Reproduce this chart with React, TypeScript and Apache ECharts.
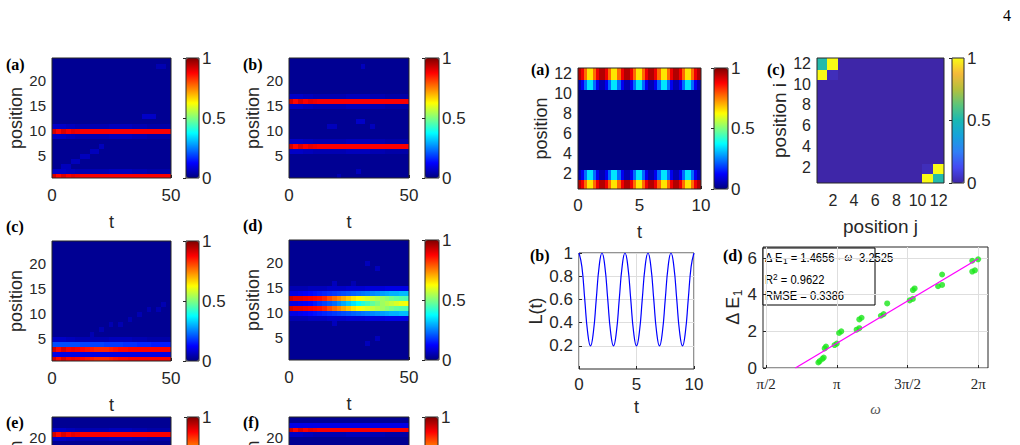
import React, { useEffect, useRef } from 'react';
import * as echarts from 'echarts';

const SANS = '"Liberation Sans", Arial, Helvetica, sans-serif';
const SERIF = '"Liberation Serif", "Times New Roman", serif';
const INK = '#262626';

const JET = ['#00007f', '#0000ff', '#007fff', '#00ffff', '#7fff7f', '#ffff00', '#ff7f00', '#ff0000', '#7f0000'];
const PARULA = ['#3e26a8', '#4549f2', '#2f7ff6', '#16a2dc', '#1ab8b4', '#5cc47a', '#b4c03c', '#f5b93a', '#f9fb15'];

// ---------- propagation maps, t = 0..50 (bin centres), sites 1..24 ----------
const tLong = [1, 3, 5, 7, 9, 11, 13, 15, 17, 19, 21, 23, 25, 27, 29, 31, 33, 35, 37, 39, 41, 43, 45, 47, 49];

const redBand = [0.92, 0.87, 0.91, 0.88, 0.9, 0.89, 0.88, 0.88, 0.88, 0.88, 0.88, 0.88, 0.88, 0.88, 0.88, 0.88, 0.88, 0.88, 0.88, 0.88, 0.88, 0.88, 0.88, 0.88, 0.88];
const faintBand = [0.07, 0.07, 0.07, 0.06, 0.06, 0.05, 0.05, 0.05, 0.05, 0.05, 0.05, 0.05, 0.06, 0.06, 0.06, 0.06, 0.06, 0.05, 0.05, 0.05, 0.04, 0.04, 0.04, 0.04, 0.04];

const mapABg = 0.02;
const mapABands: Record<number, number[]> = { 10: redBand, 1: redBand, 11: faintBand, 9: faintBand, 2: faintBand };
const mapASpots = [[5, 3, 0.06], [7, 3, 0.06], [9, 4, 0.06], [11, 4, 0.06], [13, 5, 0.06], [15, 5, 0.06], [17, 6, 0.06], [19, 6, 0.06], [21, 7, 0.06], [39, 13, 0.07], [41, 13, 0.07], [43, 13, 0.07], [45, 23, 0.05], [47, 23, 0.05]];

const mapBBg = 0.02;
const mapBBands: Record<number, number[]> = { 16: redBand, 7: redBand, 15: faintBand, 17: faintBand, 6: faintBand, 8: faintBand };
const mapBSpots = [[17, 11, 0.06], [19, 11, 0.06], [29, 12, 0.07], [31, 12, 0.07], [35, 11, 0.06], [29, 2, 0.06], [21, 1, 0.05], [31, 23, 0.06]];

const mapCRed = [0.92, 0.87, 0.91, 0.88, 0.89, 0.88, 0.87, 0.86, 0.85, 0.84, 0.84, 0.84, 0.85, 0.86, 0.87, 0.87, 0.88, 0.88, 0.88, 0.88, 0.88, 0.88, 0.88, 0.88, 0.88];
const mapCRow4 = [0.2, 0.2, 0.2, 0.2, 0.2, 0.2, 0.19, 0.19, 0.19, 0.19, 0.19, 0.18, 0.18, 0.18, 0.18, 0.17, 0.17, 0.17, 0.16, 0.16, 0.16, 0.15, 0.15, 0.15, 0.15];
const mapCRow2 = [0.1, 0.1, 0.1, 0.1, 0.1, 0.1, 0.1, 0.1, 0.1, 0.1, 0.1, 0.1, 0.1, 0.1, 0.1, 0.1, 0.1, 0.1, 0.1, 0.1, 0.1, 0.1, 0.1, 0.1, 0.1];
const mapCBg = 0.02;
const mapCBands: Record<number, number[]> = { 1: mapCRed, 3: mapCRed, 2: mapCRow2, 4: mapCRow4, 5: faintBand };
const mapCSpots = [[17, 6, 0.05], [21, 7, 0.05], [25, 8, 0.05], [29, 8, 0.05], [33, 9, 0.05], [37, 10, 0.05], [41, 11, 0.05], [45, 11, 0.05], [47, 12, 0.05]];

const mapDOuter = [0.92, 0.9, 0.9, 0.89, 0.88, 0.87, 0.86, 0.84, 0.8, 0.77, 0.74, 0.71, 0.68, 0.65, 0.63, 0.61, 0.59, 0.57, 0.55, 0.53, 0.51, 0.49, 0.47, 0.46, 0.45];
const mapDCentre = [0.1, 0.1, 0.11, 0.12, 0.13, 0.15, 0.17, 0.19, 0.21, 0.23, 0.26, 0.29, 0.32, 0.35, 0.38, 0.41, 0.44, 0.47, 0.5, 0.53, 0.55, 0.57, 0.59, 0.61, 0.62];
const mapDFlank = [0.1, 0.1, 0.11, 0.12, 0.13, 0.14, 0.15, 0.16, 0.17, 0.18, 0.19, 0.2, 0.21, 0.22, 0.23, 0.24, 0.25, 0.26, 0.27, 0.28, 0.29, 0.3, 0.3, 0.31, 0.31];
const mapDEdge = [0.05, 0.05, 0.05, 0.05, 0.06, 0.06, 0.06, 0.06, 0.07, 0.07, 0.07, 0.07, 0.08, 0.08, 0.08, 0.08, 0.09, 0.09, 0.09, 0.09, 0.1, 0.1, 0.1, 0.1, 0.1];
const mapDBg = 0.02;
const mapDBands: Record<number, number[]> = { 11: mapDOuter, 13: mapDOuter, 12: mapDCentre, 10: mapDFlank, 14: mapDFlank, 9: mapDEdge, 15: mapDEdge };
const mapDSpots = [[19, 16, 0.06], [27, 16, 0.05], [33, 20, 0.06], [37, 19, 0.06], [19, 8, 0.06], [33, 4, 0.06], [37, 5, 0.06]];

const mapEBg = 0.02;
const mapEBands: Record<number, number[]> = { 21: redBand, 22: faintBand, 20: faintBand };
const mapFBg = 0.02;
const mapFBands: Record<number, number[]> = { 22: redBand, 23: mapCRow2, 21: faintBand };

// ---------- two-edge map, t = 0..10 (bin centres), sites 1..12 ----------
const tShort = [0.125, 0.375, 0.625, 0.875, 1.125, 1.375, 1.625, 1.875, 2.125, 2.375, 2.625, 2.875, 3.125, 3.375, 3.625, 3.875, 4.125, 4.375, 4.625, 4.875, 5.125, 5.375, 5.625, 5.875, 6.125, 6.375, 6.625, 6.875, 7.125, 7.375, 7.625, 7.875, 8.125, 8.375, 8.625, 8.875, 9.125, 9.375, 9.625, 9.875];
const edgeSite = [0.95, 0.89, 0.77, 0.65, 0.65, 0.77, 0.89, 0.95, 0.95, 0.89, 0.77, 0.65, 0.65, 0.77, 0.89, 0.95, 0.95, 0.89, 0.77, 0.65, 0.65, 0.77, 0.89, 0.95, 0.95, 0.89, 0.77, 0.65, 0.65, 0.77, 0.89, 0.95, 0.95, 0.89, 0.77, 0.65, 0.65, 0.77, 0.89, 0.95];
const innerSite = [0.05, 0.11, 0.23, 0.35, 0.35, 0.23, 0.11, 0.05, 0.05, 0.11, 0.23, 0.35, 0.35, 0.23, 0.11, 0.05, 0.05, 0.11, 0.23, 0.35, 0.35, 0.23, 0.11, 0.05, 0.05, 0.11, 0.23, 0.35, 0.35, 0.23, 0.11, 0.05, 0.05, 0.11, 0.23, 0.35, 0.35, 0.23, 0.11, 0.05];
const twoEdgeBands: Record<number, number[]> = { 12: edgeSite, 11: innerSite, 1: edgeSite, 2: innerSite };

// ---------- correlation matrix, sites 1..12 ----------
const sites12 = [1, 2, 3, 4, 5, 6, 7, 8, 9, 10, 11, 12];
const corrCells = [[1, 12, 0.52], [2, 12, 1], [1, 11, 1], [2, 11, 0.03], [12, 1, 0.52], [11, 1, 1], [12, 2, 1], [11, 2, 0.03]];

// ---------- L(t) ----------
const lTimes = [0, 0.25, 0.5, 0.75, 1, 1.25, 1.5, 1.75, 2, 2.25, 2.5, 2.75, 3, 3.25, 3.5, 3.75, 4, 4.25, 4.5, 4.75, 5, 5.25, 5.5, 5.75, 6, 6.25, 6.5, 6.75, 7, 7.25, 7.5, 7.75, 8, 8.25, 8.5, 8.75, 9, 9.25, 9.5, 9.75, 10];
const lValues = [1, 0.883, 0.6, 0.317, 0.2, 0.317, 0.6, 0.883, 1, 0.883, 0.6, 0.317, 0.2, 0.317, 0.6, 0.883, 1, 0.883, 0.6, 0.317, 0.2, 0.317, 0.6, 0.883, 1, 0.883, 0.6, 0.317, 0.2, 0.317, 0.6, 0.883, 1, 0.883, 0.6, 0.317, 0.2, 0.317, 0.6, 0.883, 1];

// ---------- ΔE1 vs ω ----------
const omegaVals = [2.73, 2.76, 2.82, 2.85, 2.87, 2.9, 3.09, 3.14, 3.19, 3.24, 3.58, 3.64, 3.64, 3.69, 4.12, 4.18, 4.26, 4.76, 4.83, 4.83, 4.87, 5.39, 5.48, 5.48, 6.15, 6.21, 6.15, 6.28];
const deltaE = [0.3, 0.38, 0.5, 0.57, 1.07, 1.17, 1.25, 1.33, 1.91, 2.0, 2.09, 2.17, 2.65, 2.74, 2.85, 2.94, 3.52, 3.69, 3.77, 4.25, 4.34, 4.46, 4.53, 5.1, 5.26, 5.33, 5.85, 5.93];
const fitSlope = 1.4656;
const fitIntercept = -3.2525;
const fitR2 = 0.9622;
const fitRmse = 0.3386;
const piTicks = [Math.PI / 2, Math.PI, (3 * Math.PI) / 2, 2 * Math.PI];
const piLabels = ['π/2', 'π', '3π/2', '2π'];

function buildMap(times: number[], rows: number, bg: number, bands: Record<number, number[]>, spots: number[][] = []) {
  const spotVals = new Map<string, number>();
  spots.forEach(([t, r, v]) => spotVals.set(`${t}|${r}`, v));
  const out: number[][] = [];
  for (let r = 1; r <= rows; r++) {
    const band = bands[r];
    times.forEach((t, k) => {
      const s = spotVals.get(`${t}|${r}`);
      out.push([t, r, s !== undefined ? s : band ? band[k] : bg]);
    });
  }
  return out;
}

// one image cell, snapped outward to whole pixels so neighbours leave no seams
function cellRenderer(dx: number, dy: number) {
  return (_params: any, api: any) => {
    const x = api.value(0);
    const y = api.value(1);
    const p0 = api.coord([x - dx / 2, y + dy / 2]);
    const p1 = api.coord([x + dx / 2, y - dy / 2]);
    const x0 = Math.floor(p0[0]);
    const y0 = Math.floor(p0[1]);
    return {
      type: 'rect',
      shape: { x: x0, y: y0, width: Math.ceil(p1[0]) - x0 + 1, height: Math.ceil(p1[1]) - y0 + 1 },
      style: { fill: api.visual('color'), stroke: null },
    };
  };
}

type Box = { left: number; top: number; width: number; height: number };

function buildOption() {
  const grid: any[] = [];
  const xAxis: any[] = [];
  const yAxis: any[] = [];
  const series: any[] = [];
  const visualMap: any[] = [];
  const graphic: any[] = [];

  const tick = (vals?: number[], len = 3) => ({
    show: true, inside: true, length: len, lineStyle: { color: INK, width: 1 }, ...(vals ? { customValues: vals } : {}),
  });

  function addHeat(p: {
    box: Box; bar: Box; data: number[][]; dx: number; dy: number; colors: string[];
    xMin: number; xMax: number; xInterval?: number; xTicks?: number[]; yMin: number; yMax: number; yTicks: number[];
    xName: string; yName: string; xNameGap: number; yNameGap: number; xMargin: number;
    xFont: number; yFont: number; nameFont: number; barFont: number;
  }) {
    const gi = grid.push({ ...p.box, show: true, borderColor: INK, borderWidth: 1, backgroundColor: 'transparent', z: 5 }) - 1;
    const xi = xAxis.push({
      gridIndex: gi, type: 'value', min: p.xMin, max: p.xMax, ...(p.xInterval ? { interval: p.xInterval } : {}),
      axisLine: { show: false }, splitLine: { show: false }, axisTick: tick(p.xTicks),
      axisLabel: { color: INK, fontSize: p.xFont, fontFamily: SANS, margin: p.xMargin, ...(p.xTicks ? { customValues: p.xTicks } : {}) },
      name: p.xName, nameLocation: 'middle', nameGap: p.xNameGap,
      nameTextStyle: { color: INK, fontSize: p.nameFont, fontFamily: SANS },
    }) - 1;
    const yi = yAxis.push({
      gridIndex: gi, type: 'value', min: p.yMin, max: p.yMax,
      axisLine: { show: false }, splitLine: { show: false }, axisTick: tick(p.yTicks),
      axisLabel: { color: INK, fontSize: p.yFont, fontFamily: SANS, margin: 6, customValues: p.yTicks },
      name: p.yName, nameLocation: 'middle', nameGap: p.yNameGap, nameRotate: 90,
      nameTextStyle: { color: INK, fontSize: p.nameFont, fontFamily: SANS },
    }) - 1;
    const si = series.push({
      type: 'custom', xAxisIndex: xi, yAxisIndex: yi, data: p.data, encode: { x: 0, y: 1 },
      renderItem: cellRenderer(p.dx, p.dy), silent: true, clip: true,
    }) - 1;
    visualMap.push({
      type: 'continuous', seriesIndex: si, dimension: 2, min: 0, max: 1, inRange: { color: p.colors },
      left: p.bar.left, top: p.bar.top, itemWidth: p.bar.width, itemHeight: p.bar.height,
      calculable: false, padding: 0, hoverLink: false, z: 1, textStyle: { fontSize: 1 },
    });
    const ci = grid.push({ ...p.bar, show: true, borderColor: INK, borderWidth: 1, backgroundColor: 'transparent', z: 5 }) - 1;
    xAxis.push({ gridIndex: ci, type: 'value', min: 0, max: 1, show: false });
    yAxis.push({
      gridIndex: ci, type: 'value', position: 'right', min: 0, max: 1, interval: 0.5, z: 5,
      axisLine: { show: false }, splitLine: { show: false }, axisTick: tick(undefined, 3),
      axisLabel: { color: INK, fontSize: p.barFont, fontFamily: SANS, margin: 3 },
    });
  }

  const leftCommon = {
    dx: 2, dy: 1, colors: JET, xMin: 0, xMax: 50, xInterval: 50, yMin: 0.5, yMax: 24.5, yTicks: [5, 10, 15, 20],
    xName: 't', yName: 'position', xNameGap: 35, yNameGap: 24, xMargin: 9, xFont: 17, yFont: 15, nameFont: 18, barFont: 17,
  };
  addHeat({ ...leftCommon, box: { left: 52, top: 58, width: 119, height: 120 }, bar: { left: 186, top: 58, width: 13, height: 120 }, data: buildMap(tLong, 24, mapABg, mapABands, mapASpots) });
  addHeat({ ...leftCommon, box: { left: 289, top: 58, width: 120, height: 120 }, bar: { left: 425, top: 58, width: 14, height: 120 }, data: buildMap(tLong, 24, mapBBg, mapBBands, mapBSpots) });
  addHeat({ ...leftCommon, box: { left: 52, top: 241, width: 119, height: 120 }, bar: { left: 186, top: 241, width: 13, height: 120 }, data: buildMap(tLong, 24, mapCBg, mapCBands, mapCSpots) });
  addHeat({ ...leftCommon, box: { left: 289, top: 240, width: 120, height: 120 }, bar: { left: 425, top: 240, width: 14, height: 120 }, data: buildMap(tLong, 24, mapDBg, mapDBands, mapDSpots) });
  addHeat({ ...leftCommon, box: { left: 52, top: 417, width: 119, height: 120 }, bar: { left: 187, top: 417, width: 12, height: 120 }, data: buildMap(tLong, 24, mapEBg, mapEBands) });
  addHeat({ ...leftCommon, box: { left: 289, top: 417, width: 120, height: 120 }, bar: { left: 425, top: 417, width: 13, height: 120 }, data: buildMap(tLong, 24, mapFBg, mapFBands) });

  // two-edge time map
  addHeat({
    box: { left: 578, top: 68, width: 123, height: 121 }, bar: { left: 714, top: 68, width: 14, height: 121 },
    data: buildMap(tShort, 12, 0, twoEdgeBands), dx: 0.25, dy: 1, colors: JET,
    xMin: 0, xMax: 10, xInterval: 5, yMin: 0.5, yMax: 12.5, yTicks: [2, 4, 6, 8, 10, 12],
    xName: 't', yName: 'position', xNameGap: 34, yNameGap: 26, xMargin: 8, xFont: 17, yFont: 16, nameFont: 18, barFont: 17,
  });
  // correlation matrix
  addHeat({
    box: { left: 817, top: 58, width: 127, height: 125 }, bar: { left: 952, top: 58, width: 12, height: 125 },
    data: buildMap(sites12, 12, 0, {}, corrCells), dx: 1, dy: 1, colors: PARULA,
    xMin: 0.5, xMax: 12.5, xTicks: [2, 4, 6, 8, 10, 12], yMin: 0.5, yMax: 12.5, yTicks: [2, 4, 6, 8, 10, 12],
    xName: 'position j', yName: 'position i', xNameGap: 34, yNameGap: 26, xMargin: 9, xFont: 16, yFont: 16, nameFont: 19, barFont: 17,
  });

  // L(t)
  {
    const gi = grid.push({ left: 579, top: 253, width: 115, height: 116, show: true, borderColor: INK, borderWidth: 1, backgroundColor: 'transparent' }) - 1;
    const xi = xAxis.push({
      gridIndex: gi, type: 'value', min: 0, max: 10, interval: 5,
      axisLine: { show: false }, axisTick: tick(undefined, 3),
      splitLine: { show: true, lineStyle: { color: '#dedede', width: 1 } },
      axisLabel: { color: INK, fontSize: 17, fontFamily: SANS, margin: 7 },
      name: 't', nameLocation: 'middle', nameGap: 29, nameTextStyle: { color: INK, fontSize: 18, fontFamily: SANS },
    }) - 1;
    const yi = yAxis.push({
      gridIndex: gi, type: 'value', min: 0, max: 1, interval: 0.2,
      axisLine: { show: false }, axisTick: tick([0.2, 0.4, 0.6, 0.8, 1], 3),
      splitLine: { show: true, lineStyle: { color: '#dedede', width: 1 } },
      axisLabel: { color: INK, fontSize: 17, fontFamily: SANS, margin: 6, customValues: [0.2, 0.4, 0.6, 0.8, 1] },
      name: 'L(t)', nameLocation: 'middle', nameGap: 32, nameRotate: 90, nameTextStyle: { color: INK, fontSize: 18, fontFamily: SANS },
    }) - 1;
    series.push({
      type: 'line', xAxisIndex: xi, yAxisIndex: yi, data: lTimes.map((t, i) => [t, lValues[i]]),
      smooth: 0.5, showSymbol: false, lineStyle: { color: '#0000ff', width: 1.2 }, silent: true,
    });
  }

  // ΔE1 vs ω with linear fit
  {
    const gi = grid.push({ left: 763, top: 247, width: 225, height: 121, show: true, borderColor: INK, borderWidth: 1, backgroundColor: 'transparent' }) - 1;
    const xi = xAxis.push({
      gridIndex: gi, type: 'value', min: 1.5, max: 6.5,
      axisLine: { show: false }, axisTick: tick(piTicks, 3),
      splitLine: { show: true, lineStyle: { color: '#dedede', width: 1 } },
      axisLabel: {
        color: INK, fontSize: 15, fontFamily: SERIF, margin: 8, customValues: piTicks,
        formatter: (v: number) => { const k = piTicks.findIndex((p) => Math.abs(p - v) < 1e-6); return k >= 0 ? piLabels[k] : ''; },
      },
      name: 'ω', nameLocation: 'middle', nameGap: 33,
      nameTextStyle: { color: '#555555', fontSize: 15, fontFamily: SERIF, fontStyle: 'italic' },
    }) - 1;
    const yi = yAxis.push({
      gridIndex: gi, type: 'value', min: 0, max: 6.6,
      axisLine: { show: false }, axisTick: tick([0, 2, 4, 6], 3),
      splitLine: { show: true, lineStyle: { color: '#dedede', width: 1 } },
      axisLabel: { color: INK, fontSize: 17, fontFamily: SANS, margin: 6, customValues: [0, 2, 4, 6] },
      name: '{m|Δ E}{s|1}', nameLocation: 'middle', nameGap: 19, nameRotate: 90,
      nameTextStyle: {
        color: INK, fontSize: 18, fontFamily: SANS,
        rich: { m: { fontSize: 18, fontFamily: SANS, color: INK, lineHeight: 22, verticalAlign: 'middle' }, s: { fontSize: 12, fontFamily: SANS, color: INK, lineHeight: 12, verticalAlign: 'bottom' } },
      },
    }) - 1;
    const x0 = -fitIntercept / fitSlope;
    const x1 = 2 * Math.PI;
    series.push({
      type: 'line', xAxisIndex: xi, yAxisIndex: yi, data: [[x0, fitSlope * x0 + fitIntercept], [x1, fitSlope * x1 + fitIntercept]],
      showSymbol: false, lineStyle: { color: '#ff00ff', width: 1.3 }, silent: true, z: 3,
    });
    series.push({
      type: 'scatter', xAxisIndex: xi, yAxisIndex: yi, data: omegaVals.map((w, i) => [w, deltaE[i]]),
      symbolSize: 6, itemStyle: { color: '#19e619' }, silent: true, z: 2,
    });
  }

  // fit annotation
  const fs = 12;
  const rich = {
    n: { fontSize: fs, fontFamily: SANS, color: '#000', lineHeight: 15, verticalAlign: 'middle' },
    i: { fontSize: fs, fontFamily: SERIF, fontStyle: 'italic', color: '#000', lineHeight: 15, verticalAlign: 'middle' },
    s: { fontSize: 9, fontFamily: SANS, color: '#000', lineHeight: 9, verticalAlign: 'bottom' },
    p: { fontSize: 9, fontFamily: SANS, color: '#000', lineHeight: 9, verticalAlign: 'top' },
  };
  graphic.push({
    type: 'group', x: 763, y: 248, z: 20,
    children: [
      { type: 'rect', shape: { x: 0, y: 0, width: 112, height: 57 }, style: { fill: '#ffffff', stroke: '#000000', lineWidth: 1 } },
      { type: 'text', x: 2, y: 2, scaleX: 0.93, style: { text: `{n|Δ E}{s|1}{n| = ${fitSlope.toFixed(4)} · }{i|ω}{n| ${fitIntercept.toFixed(4)}}`, rich } },
      { type: 'text', x: 2, y: 24, scaleX: 0.93, style: { text: `{n|R}{p|2}{n| = ${fitR2.toFixed(4)}}`, rich } },
      { type: 'text', x: 2, y: 40, scaleX: 0.93, style: { text: `{n|RMSE = ${fitRmse.toFixed(4)}}`, rich } },
    ],
  });

  // panel letters and page number
  const letters: [string, number, number][] = [
    ['(a)', 6, 56], ['(b)', 243, 56], ['(c)', 6, 218], ['(d)', 243, 217], ['(e)', 6, 414], ['(f)', 243, 414],
    ['(a)', 531, 61], ['(c)', 767, 61], ['(b)', 530, 247], ['(d)', 723, 247],
  ];
  letters.forEach(([txt, x, y]) => graphic.push({
    type: 'text', x, y, z: 20,
    style: { text: txt, fontFamily: SERIF, fontWeight: 'bold', fontSize: 16, fill: '#000' },
  }));
  graphic.push({ type: 'text', x: 1003, y: 7, z: 20, style: { text: '4', fontFamily: SERIF, fontSize: 16, fill: '#000' } });

  return { animation: false, backgroundColor: '#ffffff', textStyle: { fontFamily: SANS }, grid, xAxis, yAxis, series, visualMap, graphic };
}

export default function App() {
  const ref = useRef<HTMLDivElement>(null);
  useEffect(() => {
    if (!ref.current) return;
    document.body.style.overflow = 'hidden';
    const chart = echarts.init(ref.current, undefined, { renderer: 'svg' });
    chart.setOption(buildOption() as any);
    return () => chart.dispose();
  }, []);
  // the lowest row of panels runs past the bottom of the window, as on the printed page
  return <div ref={ref} style={{ position: 'fixed', left: 0, top: 0, width: 1020, height: 580, background: '#fff' }} />;
}
